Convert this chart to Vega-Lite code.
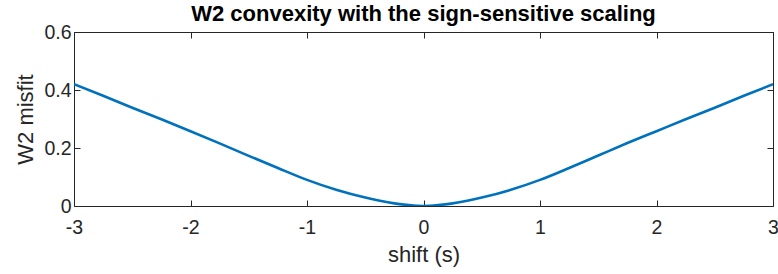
{
  "$schema": "https://vega.github.io/schema/vega-lite/v6.json",
  "width": 699,
  "height": 174,
  "autosize": {"type": "none"},
  "padding": {"left": 74, "top": 32, "right": 5, "bottom": 68},
  "background": "white",
  "title": {
    "text": "W2 convexity with the sign-sensitive scaling",
    "font": "Liberation Sans",
    "fontSize": 22,
    "fontWeight": "bold",
    "color": "#000000",
    "anchor": "middle",
    "baseline": "bottom",
    "offset": -17,
    "dy": 9
  },
  "config": {
    "view": {"stroke": null},
    "axis": {
      "grid": false,
      "domainColor": "#262626",
      "domainWidth": 1,
      "tickColor": "#262626",
      "tickWidth": 1,
      "tickSize": -6,
      "labelColor": "#262626",
      "labelFont": "Liberation Sans",
      "labelFontSize": 19.5,
      "titleColor": "#262626",
      "titleFont": "Liberation Sans",
      "titleFontSize": 22,
      "titleFontWeight": "normal"
    }
  },
  "data": {
    "values": [
      {"shift": -3, "misfit": 0.42},
      {"shift": -2.75, "misfit": 0.38},
      {"shift": -2.5, "misfit": 0.339},
      {"shift": -2.25, "misfit": 0.299},
      {"shift": -2, "misfit": 0.258},
      {"shift": -1.75, "misfit": 0.216},
      {"shift": -1.5, "misfit": 0.173},
      {"shift": -1.25, "misfit": 0.131},
      {"shift": -1, "misfit": 0.09},
      {"shift": -0.75, "misfit": 0.056},
      {"shift": -0.5, "misfit": 0.029},
      {"shift": -0.375, "misfit": 0.018},
      {"shift": -0.25, "misfit": 0.009},
      {"shift": -0.125, "misfit": 0.003},
      {"shift": 0, "misfit": 0},
      {"shift": 0.125, "misfit": 0.003},
      {"shift": 0.25, "misfit": 0.009},
      {"shift": 0.375, "misfit": 0.018},
      {"shift": 0.5, "misfit": 0.029},
      {"shift": 0.75, "misfit": 0.056},
      {"shift": 1, "misfit": 0.09},
      {"shift": 1.25, "misfit": 0.131},
      {"shift": 1.5, "misfit": 0.174},
      {"shift": 1.75, "misfit": 0.217},
      {"shift": 2, "misfit": 0.258},
      {"shift": 2.25, "misfit": 0.299},
      {"shift": 2.5, "misfit": 0.339},
      {"shift": 2.75, "misfit": 0.38},
      {"shift": 3, "misfit": 0.42}
    ]
  },
  "layer": [
    {
      "mark": {"type": "line", "color": "#0072BD", "strokeWidth": 2.6, "interpolate": "monotone", "clip": true},
      "encoding": {
        "x": {
          "field": "shift", "type": "quantitative",
          "scale": {"domain": [-3, 3], "nice": false, "zero": false},
          "axis": {
            "orient": "bottom",
            "values": [-3, -2, -1, 0, 1, 2, 3],
            "labelExpr": "'' + datum.value",
            "labelPadding": 18,
            "labelBaseline": "top",
            "labelFlush": false,
            "title": "shift (s)",
            "titleX": 349.5,
            "titleY": 55,
            "titleBaseline": "alphabetic",
            "titleAlign": "center"
          }
        },
        "y": {
          "field": "misfit", "type": "quantitative",
          "scale": {"domain": [0, 0.6], "nice": false},
          "axis": {
            "orient": "left",
            "values": [0, 0.2, 0.4, 0.6],
            "labelExpr": "'' + datum.value",
            "labelPadding": 9,
            "labelBaseline": "middle",
            "labelFlush": false,
            "title": "W2 misfit",
            "titleX": -42,
            "titleY": 87,
            "titleAngle": -90,
            "titleBaseline": "alphabetic",
            "titleAlign": "center"
          }
        }
      }
    },
    {
      "mark": {"type": "line", "opacity": 0},
      "encoding": {
        "x": {
          "field": "shift", "type": "quantitative",
          "scale": {"domain": [-3, 3], "nice": false, "zero": false},
          "axis": {"orient": "top", "values": [-3, -2, -1, 0, 1, 2, 3], "labels": false, "title": null}
        },
        "y": {
          "field": "misfit", "type": "quantitative",
          "scale": {"domain": [0, 0.6], "nice": false},
          "axis": {"orient": "right", "values": [0, 0.2, 0.4, 0.6], "labels": false, "title": null}
        }
      }
    }
  ],
  "resolve": {
    "scale": {"x": "independent", "y": "independent"},
    "axis": {"x": "independent", "y": "independent"}
  }
}
